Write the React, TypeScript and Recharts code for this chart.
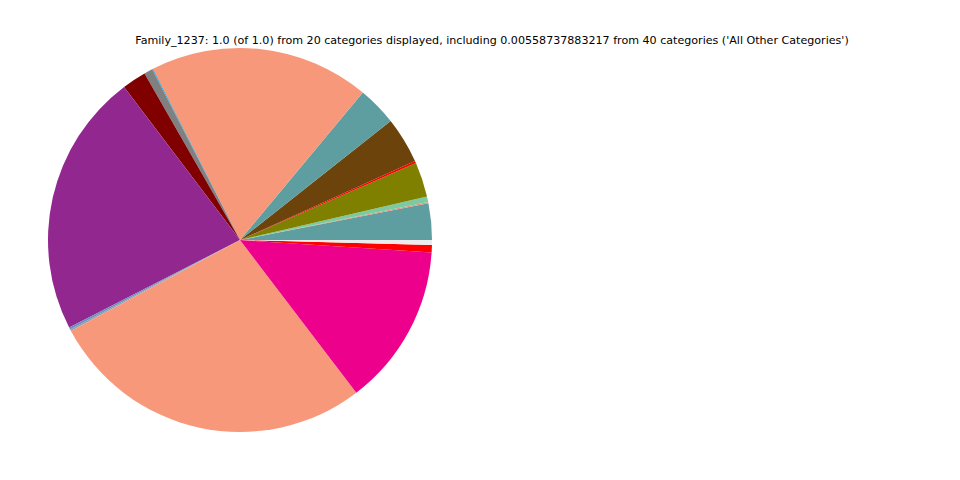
import { PieChart, Pie, Cell } from "recharts";

const categories = [
  "Cat_01", "Cat_02", "Cat_03", "Cat_04", "Cat_05", "Cat_06",
  "Cat_07", "Cat_08", "Cat_09", "Cat_10", "Cat_11", "Cat_12",
  "Cat_13", "Cat_14", "Cat_15", "Cat_16", "Cat_17", "All Other Categories",
];

const shares = [
  0.0306, 0.0011, 0.0047, 0.0292, 0.0019, 0.0389,
  0.0331, 0.1853, 0.0008, 0.0072, 0.0203, 0.2222,
  0.0017, 0.0014, 0.2750, 0.1361, 0.0061, 0.0042,
];

const colors = [
  "#5f9ea0", "#e8907a", "#7ccba0", "#808000", "#ff0000", "#6b430b",
  "#5f9ea0", "#f7987a", "#29a3d8", "#808080", "#800000", "#92278f",
  "#6c8ebf", "#8aa0b0", "#f7987a", "#ec008c", "#ff0000", "#ececec",
];

const title =
  "Family_1237: 1.0 (of 1.0) from 20 categories displayed, including 0.00558737883217 from 40 categories ('All Other Categories')";

const data = categories.map((name, i) => ({ name, value: shares[i] }));

export default function App() {
  return (
    <div style={{ position: "fixed", left: 0, top: 0, background: "#fff" }}>
      <PieChart
        width={960}
        height={480}
        margin={{ top: 0, right: 0, bottom: 0, left: 0 }}
      >
        <text
          x={492}
          y={40.5}
          textAnchor="middle"
          dominantBaseline="middle"
          fontSize={11.1}
          fontFamily="DejaVu Sans"
          fill="#000"
        >
          {title}
        </text>
        <Pie
          data={data}
          dataKey="value"
          nameKey="name"
          cx={240}
          cy={240}
          outerRadius={192}
          startAngle={0}
          endAngle={360}
          stroke="none"
          isAnimationActive={false}
        >
          {data.map((d, i) => (
            <Cell key={d.name} fill={colors[i]} />
          ))}
        </Pie>
      </PieChart>
    </div>
  );
}
